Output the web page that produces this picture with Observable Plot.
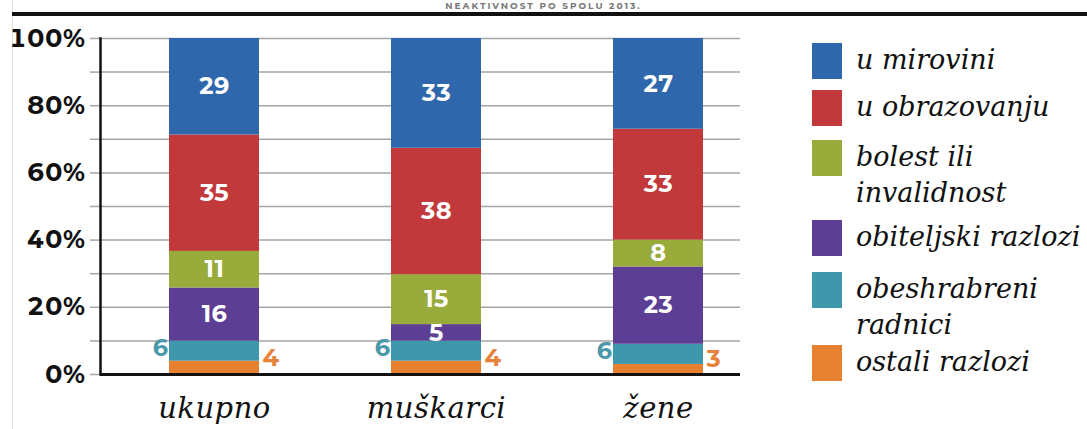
<!DOCTYPE html>
<html>
<head>
<meta charset="utf-8">
<script src="https://cdn.jsdelivr.net/npm/d3@7"></script>
<script src="https://cdn.jsdelivr.net/npm/@observablehq/plot@0.6"></script>
<style>
  body { margin: 0; background: #fff; }
  #wrap { position: relative; width: 1087px; height: 429px; overflow: hidden; background: #fff; }
  #edge { position: absolute; left: 12px; top: 0; width: 1px; height: 429px; background: #e2e2e2; }
  #title { position: absolute; left: 0; width: 1087px; top: 0px; text-align: center;
           font: bold 9px/11px Montserrat, "DejaVu Sans", sans-serif; color: #777; letter-spacing: 2px; }
  #rule { position: absolute; left: 12px; top: 12px; width: 1075px; height: 4px; background: #111; }
  #chart { position: absolute; left: 0; top: 0; }
  #legend { position: absolute; left: 812px; top: 0; }
  .item { position: absolute; left: 0; display: flex; align-items: flex-start; white-space: pre; }
  .sw { width: 30px; height: 36px; flex: none; }
  .lab { margin-left: 14px; font: italic 27px "DejaVu Serif", serif; line-height: 36px;
         color: #111; letter-spacing: 0px; margin-top: -1px; }
</style>
</head>
<body>
<div id="wrap">
  <div id="edge"></div>
  <div id="title">NEAKTIVNOST PO SPOLU 2013.</div>
  <div id="rule"></div>
  <div id="chart"></div>
  <div id="legend"></div>
</div>
<script>
// ---- data ----
const categories = ["ukupno", "muškarci", "žene"];
const reasons = ["ostali razlozi", "obeshrabreni radnici", "obiteljski razlozi", "bolest ili invalidnost", "u obrazovanju", "u mirovini"];
const colors = ["#e8812f", "#3e97aa", "#5c3f94", "#98ab3b", "#c2393c", "#2f67ad"];
const ostali = [4, 4, 3];
const obeshrabreni = [6, 6, 6];
const obiteljski = [16, 5, 23];
const bolest = [11, 15, 8];
const obrazovanje = [35, 38, 33];
const mirovina = [29, 33, 27];
const yTicks = [0, 0.1, 0.2, 0.3, 0.4, 0.5, 0.6, 0.7, 0.8, 0.9, 1];
const legendLabels = ["u mirovini", "u obrazovanju", "bolest ili\ninvalidnost", "obiteljski razlozi", "obeshrabreni\nradnici", "ostali razlozi"];

const series = [ostali, obeshrabreni, obiteljski, bolest, obrazovanje, mirovina];
const data = [];
reasons.forEach((r, ri) => categories.forEach((c, ci) => data.push({cat: c, reason: r, value: series[ri][ci]})));

const inside = new Set(["obiteljski razlozi", "bolest ili invalidnost", "u obrazovanju", "u mirovini"]);
const stackOpts = (extra) => Plot.stackY({x: "cat", y: "value", z: "reason", offset: "normalize", ...extra});
const numFont = "Montserrat, DejaVu Sans, sans-serif";

const chart = Plot.plot({
  width: 1087,
  height: 429,
  marginLeft: 100,
  marginRight: 347,
  marginTop: 38,
  marginBottom: 55,
  style: {background: "transparent", overflow: "visible", letterSpacing: "0.5px"},
  x: {domain: categories, range: [168, 703], paddingInner: 0.596, paddingOuter: 0, align: 0.5},
  y: {domain: [0, 1]},
  color: {domain: reasons, range: colors},
  marks: [
    Plot.gridY(yTicks, {stroke: "#a5a5a5", strokeOpacity: 1, strokeWidth: 1.5}),
    Plot.axisY(yTicks, {
      tickSize: 10, tickPadding: 5, stroke: "#a5a5a5", strokeWidth: 1.5,
      tickFormat: d => (Math.round(d * 100) % 20 === 0 ? Math.round(d * 100) + "%" : ""),
      fontSize: 25, fontWeight: "bold", fontFamily: numFont, fill: "#111", label: null
    }),
    Plot.barY(data, stackOpts({fill: "reason"})),
    Plot.text(data, stackOpts({
      text: d => (inside.has(d.reason) ? String(d.value) : null),
      fill: "white", fontSize: 24, fontWeight: "bold", fontFamily: numFont
    })),
    Plot.text(data, stackOpts({
      text: d => (d.reason === "obeshrabreni radnici" ? String(d.value) : null),
      fill: "#4a98a8", fontSize: 24, fontWeight: "bold", fontFamily: numFont,
      textAnchor: "end", dx: -46, dy: -3
    })),
    Plot.text(data, stackOpts({
      text: d => (d.reason === "ostali razlozi" ? String(d.value) : null),
      fill: "#e8823a", fontSize: 24, fontWeight: "bold", fontFamily: numFont,
      textAnchor: "start", dx: 48, dy: -10
    })),
    Plot.axisX({tickSize: 0, tickPadding: 23, fontSize: 29, fontStyle: "italic", fontFamily: "DejaVu Serif, serif", fill: "#111", label: null}),
    Plot.ruleY([0], {stroke: "#111", strokeWidth: 3}),
    Plot.frame({anchor: "left", stroke: "#111", strokeWidth: 2.5})
  ]
});
document.getElementById("chart").appendChild(chart);

// ---- legend (HTML) ----
const legendTops = [43, 90, 140, 220, 272, 345];
const legend = document.getElementById("legend");
legendLabels.forEach((lab, i) => {
  const reason = reasons[reasons.length - 1 - i];
  const item = document.createElement("div");
  item.className = "item";
  item.style.top = legendTops[i] + "px";
  const sw = document.createElement("div");
  sw.className = "sw";
  sw.style.background = chart.scale("color").apply(reason);
  const t = document.createElement("div");
  t.className = "lab";
  t.textContent = lab;
  item.appendChild(sw);
  item.appendChild(t);
  legend.appendChild(item);
});
</script>
</body>
</html>
